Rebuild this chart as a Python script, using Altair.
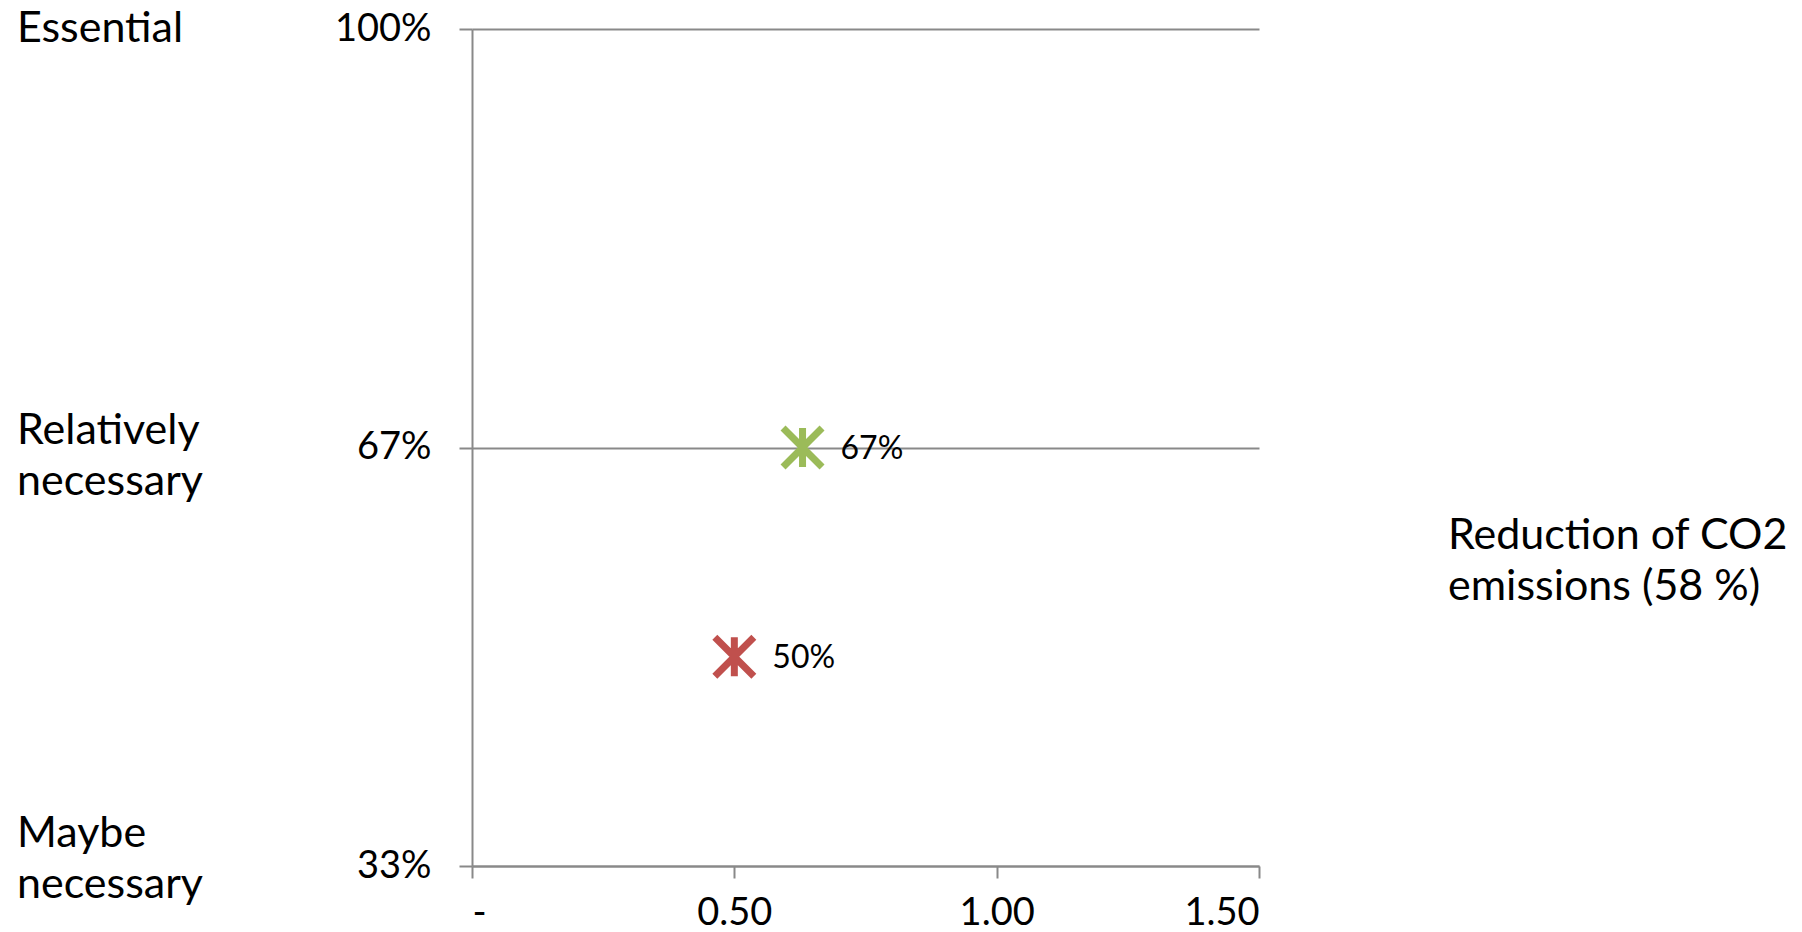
import altair as alt
import pandas as pd

# ---- data ----
series = ["Series A", "Series B"]
x_vals = [0.63, 0.50]
y_vals = [2 / 3, 0.50]
colors = ["#9BBB59", "#C0504D"]

y_ticks = [1 / 3, 2 / 3, 1.0]
x_ticks = [0.0, 0.5, 1.0, 1.5]

levels = ["Essential", "Relatively\nnecessary", "Maybe\nnecessary"]
level_vals = [1.0, 2 / 3, 1 / 3]

side_note = "Reduction of CO2\nemissions (58 %)"

FONT = "Lato"
GRAY = "#898989"

pts = pd.DataFrame({"series": series, "x": x_vals, "y": y_vals})

xs = alt.Scale(domain=[0, 1.5], nice=False, zero=False)
ys = alt.Scale(domain=[1 / 3, 1.0], nice=False, zero=False)

star = "M-1,-1L1,1M1,-1L-1,1M0,-1L0,1"

base = alt.Chart(pts)

markers = base.mark_point(
    shape=star, filled=False, size=1521, strokeWidth=7, opacity=1, strokeCap="butt"
).encode(
    x=alt.X(
        "x:Q",
        scale=xs,
        title=None,
        axis=alt.Axis(
            values=x_ticks,
            labelExpr="datum.value == 0 ? '-\u00a0\u00a0\u00a0' : format(datum.value, '.2f')",
            grid=False,
            tickSize=12,
            labelPadding=16,
            labelFontSize=38,
        ),
    ),
    y=alt.Y(
        "y:Q",
        scale=ys,
        title=None,
        axis=alt.Axis(
            values=y_ticks,
            format=".0%",
            grid=True,
            tickSize=13,
            labelPadding=28,
            labelFontSize=38,
        ),
    ),
    color=alt.Color("series:N", scale=alt.Scale(domain=series, range=colors), legend=None),
)

labels = base.mark_text(
    align="left", baseline="middle", dx=38, dy=1, fontSize=32, font=FONT, color="black"
).encode(
    x=alt.X("x:Q", scale=xs),
    y=alt.Y("y:Q", scale=ys),
    text=alt.Text("y:Q", format=".0%"),
)

layers = [markers, labels]

dys = [13, -4, -19]
for lab, val, d in zip(levels, level_vals, dys):
    ldf = pd.DataFrame({"label": [lab], "level": [val]})
    layers.append(
        alt.Chart(ldf)
        .mark_text(
            align="left", baseline="alphabetic", lineBreak="\n", lineHeight=51,
            fontSize=43, font=FONT, color="black", dy=d,
        )
        .encode(x=alt.value(-455), y=alt.Y("level:Q", scale=ys), text="label:N")
    )

note_df = pd.DataFrame({"note": [side_note]})
layers.append(
    alt.Chart(note_df)
    .mark_text(
        align="left", baseline="alphabetic", lineBreak="\n", lineHeight=51,
        fontSize=43, font=FONT, color="black",
    )
    .encode(x=alt.value(976), y=alt.value(520), text="note:N")
)

chart = (
    alt.layer(*layers)
    .properties(
        width=787,
        height=837,
        autosize=alt.AutoSizeParams(type="none"),
        padding={"left": 472, "top": 29, "right": 543, "bottom": 66},
        background="white",
    )
    .configure_view(stroke=None)
    .configure_axis(
        domainColor=GRAY,
        domainWidth=2,
        tickColor=GRAY,
        tickWidth=2,
        gridColor=GRAY,
        gridWidth=2,
        labelColor="black",
        labelFont=FONT,
    )
)

chart.save("out.html", embed_options={"renderer": "svg", "actions": False})
